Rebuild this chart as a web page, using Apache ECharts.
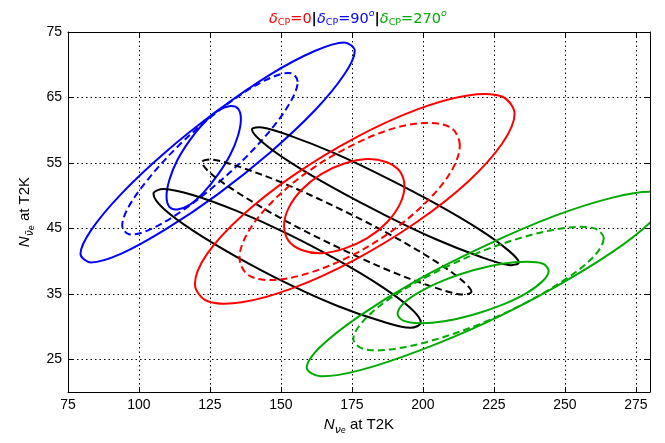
<!DOCTYPE html>
<html>
<head>
<meta charset="utf-8">
<script src="https://cdn.jsdelivr.net/npm/echarts@6/dist/echarts.min.js"></script>
<style>html,body{margin:0;padding:0;background:#fff;}#c{width:665px;height:443px;}</style>
</head>
<body>
<div id="c"></div>
<script>
// Tick labels
const xTicks = [75, 100, 125, 150, 175, 200, 225, 250, 275];
const yTicks = [25, 35, 45, 55, 65, 75];

// Contour points: [N_nue, N_nuebar]
// delta_CP = 90 deg (blue)
const blueOuter = [[176.0,72.1],[172.3,73.4],[161.9,72.1],[146.2,68.5],[127.7,63.0],[109.2,56.6],[93.6,50.2],[83.1,44.7],[79.4,41.1],[83.1,39.8],[93.6,41.1],[109.2,44.8],[127.7,50.2],[146.2,56.6],[161.9,63.0],[172.3,68.5]];
const blueDash = [[155.9,67.4],[153.6,68.7],[146.9,68.1],[136.8,65.7],[125.0,61.9],[113.2,57.3],[103.2,52.5],[96.5,48.4],[94.1,45.4],[96.5,44.1],[103.2,44.7],[113.2,47.1],[125.0,50.9],[136.8,55.5],[146.9,60.3],[153.6,64.5]];
const blueInner = [[135.9,61.7],[134.9,63.3],[132.1,63.7],[127.8,63.0],[122.8,61.1],[117.8,58.4],[113.5,55.4],[110.7,52.4],[109.7,49.9],[110.7,48.3],[113.5,47.9],[117.8,48.6],[122.8,50.5],[127.8,53.2],[132.1,56.2],[134.9,59.2]];

// black
const blackUpper = [[233.8,39.8],[230.2,41.6],[220.0,44.8],[204.8,48.7],[186.8,52.8],[168.8,56.5],[153.6,59.1],[143.4,60.4],[139.8,60.1],[143.4,58.2],[153.6,55.0],[168.8,51.1],[186.8,47.0],[204.8,43.3],[220.0,40.7],[230.2,39.4]];
const blackLower = [[199.3,30.6],[195.7,32.8],[185.5,36.1],[170.2,40.1],[152.2,44.2],[134.2,47.7],[118.9,50.1],[108.7,51.0],[105.1,50.3],[108.7,48.0],[118.9,44.7],[134.2,40.7],[152.2,36.6],[170.2,33.1],[185.5,30.8],[195.7,29.8]];
const blackDash = [[217.1,35.3],[213.4,37.2],[203.2,40.3],[187.8,44.2],[169.6,48.2],[151.4,51.8],[136.1,54.3],[125.8,55.5],[122.2,55.1],[125.8,53.2],[136.1,50.1],[151.4,46.2],[169.6,42.2],[187.8,38.6],[203.2,36.1],[213.4,34.9]];

// delta_CP = 0 (red)
const redOuter = [[232.3,62.5],[228.0,65.1],[215.8,65.3],[197.6,63.1],[176.0,58.8],[154.4,53.1],[136.2,46.9],[124.0,41.1],[119.7,36.5],[124.0,33.9],[136.2,33.7],[154.4,35.9],[176.0,40.2],[197.6,45.9],[215.8,52.1],[228.0,58.0]];
const redDash = [[213.0,57.7],[210.1,60.3],[201.6,61.1],[189.1,60.2],[174.2,57.5],[159.3,53.6],[146.8,49.0],[138.4,44.4],[135.4,40.5],[138.4,37.9],[146.8,37.1],[159.3,38.1],[174.2,40.7],[189.1,44.6],[201.6,49.2],[210.1,53.8]];
const redInner = [[193.5,51.4],[191.9,53.7],[187.3,55.1],[180.4,55.6],[172.3,54.9],[164.2,53.3],[157.3,50.9],[152.7,48.1],[151.1,45.4],[152.7,43.1],[157.3,41.7],[164.2,41.2],[172.3,41.9],[180.4,43.5],[187.3,45.9],[191.9,48.7]];

// delta_CP = 270 deg (green)
const greenOuter = [[285.3,49.3],[280.5,50.6],[266.8,49.7],[246.4,46.9],[222.2,42.4],[198.0,37.1],[177.6,31.6],[163.9,26.9],[159.1,23.7],[163.9,22.4],[177.6,23.3],[198.0,26.2],[222.2,30.6],[246.4,36.0],[266.8,41.4],[280.5,46.1]];
const greenDash = [[263.7,43.5],[260.4,45.0],[250.8,45.1],[236.5,43.8],[219.6,41.3],[202.7,37.9],[188.4,34.3],[178.9,30.8],[175.5,28.1],[178.9,26.6],[188.4,26.5],[202.7,27.8],[219.6,30.3],[236.5,33.7],[250.8,37.4],[260.4,40.8]];
const greenInner = [[244.3,38.5],[242.3,39.6],[236.5,39.9],[227.9,39.6],[217.7,38.6],[207.5,37.1],[198.9,35.3],[193.1,33.5],[191.1,31.9],[193.1,30.9],[198.9,30.5],[207.5,30.8],[217.7,31.8],[227.9,33.3],[236.5,35.1],[242.3,37.0]];

const RED = '#ff0000', BLUE = '#0000ff', BLACK = '#000000', GREEN = '#00aa00';

function ell(pts, color, dashed) {
  return {
    type: 'custom', data: pts, encode: { x: 0, y: 1 }, clip: true, silent: true,
    renderItem: function (params, api) {
      if (params.dataIndex !== 0) return null;
      const p = pts.map(function (d) { return api.coord(d); });
      const cs = params.coordSys;
      return {
        type: 'group',
        clipPath: { type: 'rect', shape: { x: cs.x, y: cs.y, width: cs.width, height: cs.height } },
        children: [{
          type: 'polygon',
          shape: { points: p, smooth: 0.34 },
          style: { fill: 'none', stroke: color, lineWidth: 2, lineDash: dashed ? [7, 4] : null }
        }]
      };
    }
  };
}

const chart = echarts.init(document.getElementById('c'), null, { renderer: 'canvas' });
const fam = 'Liberation Sans, Arial, sans-serif';
const mfam = 'DejaVu Sans, sans-serif';
const dotted = { show: true, lineStyle: { color: '#000', width: 1, type: [1.5, 3] } };

function tok(color, size, extra) {
  return Object.assign({ color: color, fontFamily: mfam, fontSize: size, fontWeight: 'normal', lineHeight: 22 }, extra || {});
}
const SUB = { lineHeight: 10, verticalAlign: 'bottom', padding: [0, 0, 2, 0] };
const SUP = { lineHeight: 10, verticalAlign: 'top', fontStyle: 'italic', padding: [1, 0, 0, 0] };

chart.setOption({
  animation: false,
  backgroundColor: '#fff',
  title: {
    left: 264, top: 3,
    text: '{r|δ}{rs|CP}{r2|=0}{k||}{b|δ}{bs|CP}{b2|=90}{bp|o}{k||}{g|δ}{gs|CP}{g2|=270}{gp|o}',
    textStyle: {
      fontWeight: 'normal',
      rich: {
        r: tok(RED, 14.5, { fontStyle: 'italic' }),
        rs: tok(RED, 9.5, SUB),
        r2: tok(RED, 14.5),
        k: tok(BLACK, 14.5, { fontWeight: 'bold' }),
        b: tok(BLUE, 14.5, { fontStyle: 'italic' }),
        bs: tok(BLUE, 9.5, SUB),
        b2: tok(BLUE, 14.5),
        bp: tok(BLUE, 9.5, SUP),
        g: tok(GREEN, 14.5, { fontStyle: 'italic' }),
        gs: tok(GREEN, 9.5, SUB),
        g2: tok(GREEN, 14.5),
        gp: tok(GREEN, 9.5, SUP)
      }
    }
  },
  grid: { left: 68, right: 15, top: 32, bottom: 51, show: false },
  xAxis: [{
    type: 'value', min: 75, max: 280, position: 'bottom',
    axisLine: { show: true, lineStyle: { color: '#000', width: 1 } },
    axisTick: { show: true, inside: true, length: 5, customValues: xTicks, lineStyle: { color: '#000' } },
    axisLabel: { customValues: xTicks, color: '#000', fontSize: 14, fontFamily: fam, margin: 6 },
    splitLine: dotted,
    name: '{n|N}{s|ν}{ss|e}{t| at T2K}',
    nameLocation: 'middle', nameGap: 20,
    nameTextStyle: {
      rich: {
        n: { fontFamily: fam, fontStyle: 'italic', fontSize: 15, color: '#000', lineHeight: 22 },
        s: { fontFamily: mfam, fontStyle: 'italic', fontSize: 11, color: '#000', lineHeight: 15, verticalAlign: 'bottom' },
        ss: { fontFamily: mfam, fontStyle: 'italic', fontSize: 8, color: '#000', lineHeight: 10, verticalAlign: 'bottom' },
        t: { fontFamily: fam, fontSize: 15, color: '#000', lineHeight: 22 }
      }
    }
  }, {
    type: 'value', min: 75, max: 280, position: 'top',
    axisLine: { show: true, lineStyle: { color: '#000', width: 1 } },
    axisTick: { show: true, inside: true, length: 5, customValues: xTicks, lineStyle: { color: '#000' } },
    axisLabel: { show: false }, splitLine: { show: false }
  }],
  yAxis: [{
    type: 'value', min: 20, max: 75, position: 'left',
    axisLine: { show: true, lineStyle: { color: '#000', width: 1 } },
    axisTick: { show: true, inside: true, length: 5, customValues: yTicks, lineStyle: { color: '#000' } },
    axisLabel: { customValues: yTicks, color: '#000', fontSize: 14, fontFamily: fam, margin: 6 },
    splitLine: dotted,
    name: '{n|N}{s|ν̄}{ss|e}{t| at T2K}',
    nameLocation: 'middle', nameGap: 32, nameRotate: 90,
    nameTextStyle: {
      rich: {
        n: { fontFamily: fam, fontStyle: 'italic', fontSize: 15, color: '#000', lineHeight: 22 },
        s: { fontFamily: mfam, fontStyle: 'italic', fontSize: 11, color: '#000', lineHeight: 15, verticalAlign: 'bottom' },
        ss: { fontFamily: mfam, fontStyle: 'italic', fontSize: 8, color: '#000', lineHeight: 10, verticalAlign: 'bottom' },
        t: { fontFamily: fam, fontSize: 15, color: '#000', lineHeight: 22 }
      }
    }
  }, {
    type: 'value', min: 20, max: 75, position: 'right',
    axisLine: { show: true, lineStyle: { color: '#000', width: 1 } },
    axisTick: { show: true, inside: true, length: 5, customValues: yTicks, lineStyle: { color: '#000' } },
    axisLabel: { show: false }, splitLine: { show: false }
  }],
  series: [
    ell(blueOuter, BLUE, false), ell(blueDash, BLUE, true), ell(blueInner, BLUE, false),
    ell(blackUpper, BLACK, false), ell(blackLower, BLACK, false), ell(blackDash, BLACK, true),
    ell(redOuter, RED, false), ell(redDash, RED, true), ell(redInner, RED, false),
    ell(greenOuter, GREEN, false), ell(greenDash, GREEN, true), ell(greenInner, GREEN, false)
  ]
});
</script>
</body>
</html>
